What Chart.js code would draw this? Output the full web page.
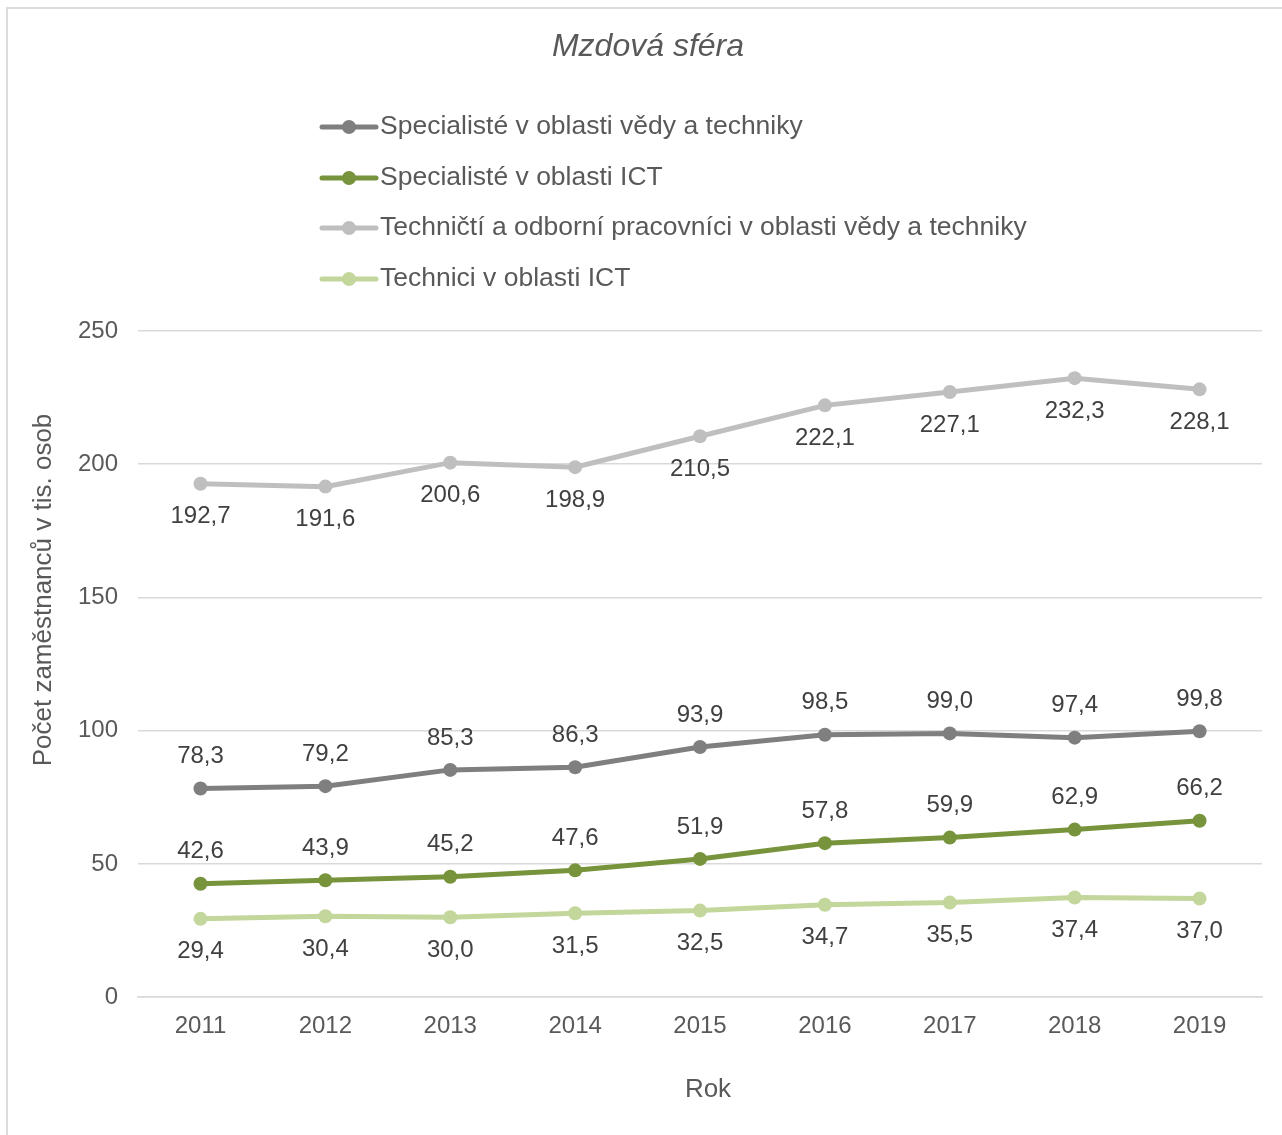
<!DOCTYPE html>
<html>
<head>
<meta charset="utf-8">
<script src="https://cdn.jsdelivr.net/npm/chart.js@4/dist/chart.umd.min.js"></script>
<style>
  html, body { margin: 0; padding: 0; background: #fff; }
  #wrap { position: relative; width: 1282px; height: 1135px; overflow: hidden; }
  #frame { position: absolute; left: 6px; top: 7px; width: 1300px; height: 1200px; border: 2px solid #dcdcdc; box-sizing: border-box; }
  canvas { position: relative; }
</style>
</head>
<body>
<div id="wrap">
  <div id="frame"></div>
  <canvas id="chart" width="1282" height="1135"></canvas>
</div>
<script>
const years = ['2011', '2012', '2013', '2014', '2015', '2016', '2017', '2018', '2019'];
const specVT = [78.3, 79.2, 85.3, 86.3, 93.9, 98.5, 99.0, 97.4, 99.8];
const specICT = [42.6, 43.9, 45.2, 47.6, 51.9, 57.8, 59.9, 62.9, 66.2];
const techVT = [192.7, 191.6, 200.6, 198.9, 210.5, 222.1, 227.1, 232.3, 228.1];
const techICT = [29.4, 30.4, 30.0, 31.5, 32.5, 34.7, 35.5, 37.4, 37.0];
const seriesNames = [
  'Specialisté v oblasti vědy a techniky',
  'Specialisté v oblasti ICT',
  'Techničtí a odborní pracovníci v oblasti vědy a techniky',
  'Technici v oblasti ICT'
];
const yTicks = [0, 50, 100, 150, 200, 250];

const FONT = '"Liberation Sans", Arial, sans-serif';
const TEXT = '#595959';

function ds(label, data, color, pos) {
  return {
    label: label,
    data: data,
    borderColor: color,
    backgroundColor: color,
    borderWidth: 5,
    pointRadius: 7,
    pointHoverRadius: 7,
    pointBorderWidth: 0,
    tension: 0,
    labelPos: pos
  };
}

// value labels + legend + axis titles, drawn on the canvas
const extras = {
  id: 'extras',
  afterDatasetsDraw(chart) {
    const ctx = chart.ctx;
    ctx.save();
    ctx.font = '24px ' + FONT;
    ctx.fillStyle = '#404040';
    ctx.textAlign = 'center';
    ctx.textBaseline = 'middle';
    chart.data.datasets.forEach((d, i) => {
      const meta = chart.getDatasetMeta(i);
      meta.data.forEach((pt, j) => {
        const dy = d.labelPos === 'above' ? -32 : 33;
        ctx.fillText(d.data[j].toFixed(1).replace('.', ','), pt.x, pt.y + dy);
      });
    });

    // legend
    const lx = 322, ly = [127, 178, 228, 279];
    chart.data.datasets.forEach((d, i) => {
      ctx.strokeStyle = d.borderColor;
      ctx.lineWidth = 5;
      ctx.lineCap = 'round';
      ctx.beginPath();
      ctx.moveTo(lx, ly[i]);
      ctx.lineTo(lx + 54, ly[i]);
      ctx.stroke();
      ctx.fillStyle = d.borderColor;
      ctx.beginPath();
      ctx.arc(lx + 27, ly[i], 7, 0, Math.PI * 2);
      ctx.fill();
      ctx.fillStyle = TEXT;
      ctx.font = '26.5px ' + FONT;
      ctx.textAlign = 'left';
      ctx.fillText(d.label, lx + 58, ly[i]);
    });

    // x axis title
    ctx.textAlign = 'center';
    ctx.font = '26px ' + FONT;
    ctx.fillStyle = TEXT;
    ctx.fillText('Rok', 708, 1090);

    // y axis title
    ctx.translate(44, 590);
    ctx.rotate(-Math.PI / 2);
    ctx.fillText('Počet zaměstnanců v tis. osob', 0, 0);
    ctx.restore();
  }
};

new Chart(document.getElementById('chart').getContext('2d'), {
  type: 'line',
  data: {
    labels: years,
    datasets: [
      ds(seriesNames[0], specVT, '#7f7f7f', 'above'),
      ds(seriesNames[1], specICT, '#77933c', 'above'),
      ds(seriesNames[2], techVT, '#bfbfbf', 'below'),
      ds(seriesNames[3], techICT, '#c3d69b', 'below')
    ]
  },
  options: {
    responsive: false,
    animation: false,
    layout: { padding: { top: 331, left: 58, right: 20, bottom: 79 } },
    plugins: {
      legend: { display: false },
      tooltip: { enabled: false },
      title: { display: false }
    },
    scales: {
      x: {
        offset: true,
        grid: { display: false, drawTicks: false },
        border: { color: '#d9d9d9', width: 1.5 },
        ticks: { color: TEXT, font: { family: FONT, size: 24 }, padding: 15 }
      },
      y: {
        min: 0,
        max: 250,
        afterBuildTicks(axis) { axis.ticks = yTicks.map(v => ({ value: v })); },
        grid: { color: '#d9d9d9', lineWidth: 1.5, drawTicks: false },
        border: { display: false },
        ticks: { color: TEXT, font: { family: FONT, size: 24 }, padding: 20 }
      }
    }
  },
  plugins: [extras, {
    id: 'titleText',
    afterDraw(chart) {
      const ctx = chart.ctx;
      ctx.save();
      ctx.font = 'italic 32px ' + FONT;
      ctx.fillStyle = TEXT;
      ctx.textAlign = 'center';
      ctx.textBaseline = 'middle';
      ctx.fillText('Mzdová sféra', 648, 47);
      ctx.restore();
    }
  }]
});
</script>
</body>
</html>
